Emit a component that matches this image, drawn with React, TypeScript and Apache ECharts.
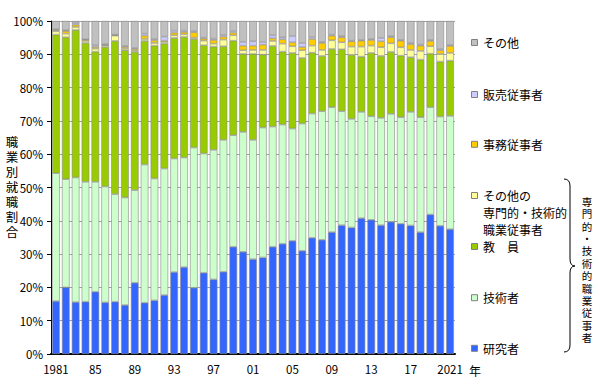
import React, { useEffect, useRef } from "react";
import * as echarts from "echarts";

const years = [
  "1981", "1982", "1983", "1984", "1985", "1986", "1987", "1988", "1989", "1990",
  "1991", "1992", "1993", "1994", "1995", "1996", "1997", "1998", "1999", "2000",
  "2001", "2002", "2003", "2004", "2005", "2006", "2007", "2008", "2009", "2010",
  "2011", "2012", "2013", "2014", "2015", "2016", "2017", "2018", "2019", "2020",
  "2021",
];

const researchers = [
  15.9, 20.0, 15.6, 15.7, 18.7, 15.5, 15.7, 14.7, 21.4, 15.4,
  16.1, 17.7, 24.6, 26.1, 19.9, 24.4, 22.4, 24.7, 32.2, 30.7,
  28.5, 29.0, 32.2, 33.1, 34.0, 31.0, 34.9, 34.3, 36.6, 38.7,
  38.0, 40.8, 40.3, 38.7, 39.7, 39.1, 38.6, 36.6, 41.9, 38.5,
  37.5,
];
const engineers = [
  38.4, 32.5, 37.4, 36.0, 33.0, 34.8, 32.3, 32.3, 27.8, 41.5,
  36.6, 38.0, 34.1, 32.9, 42.1, 35.8, 38.9, 39.6, 33.5, 36.0,
  35.8, 39.0, 36.1, 35.8, 33.7, 38.2, 37.3, 38.6, 37.5, 34.2,
  32.6, 31.9, 31.1, 32.2, 32.4, 32.0, 34.1, 34.5, 32.2, 32.8,
  34.0,
];
const teachers = [
  41.6, 42.6, 44.3, 41.7, 39.1, 41.9, 46.0, 44.2, 41.5, 37.1,
  39.9, 37.5, 36.2, 36.2, 32.6, 32.5, 31.0, 28.1, 28.4, 23.4,
  25.8, 21.9, 24.2, 21.9, 22.7, 19.7, 18.3, 16.6, 17.5, 18.6,
  19.2, 16.6, 19.0, 18.6, 18.6, 18.5, 16.4, 17.3, 16.1, 16.5,
  16.6,
];
const otherProfessionals = [
  1.0, 1.1, 0.9, 0.6, 0.9, 0.5, 1.6, 0.5, 0.4, 0.6,
  0.8, 0.5, 0.8, 0.8, 0.4, 1.4, 0.9, 2.0, 1.6, 1.1,
  1.2, 1.4, 1.5, 2.4, 2.0, 2.3, 2.1, 1.8, 2.6, 2.1,
  2.5, 3.0, 2.2, 2.6, 2.6, 2.5, 2.2, 2.6, 2.2, 2.3,
  2.3,
];
const clerical = [
  0.4, 0.8, 0.7, 0.4, 0.5, 0.1, 0.2, 0.5, 0.5, 1.0,
  0.8, 0.4, 0.8, 0.7, 1.6, 0.6, 1.1, 0.9, 0.8, 1.4,
  1.3, 1.6, 0.8, 1.3, 1.2, 1.0, 2.0, 2.1, 1.4, 1.5,
  1.6, 1.8, 1.7, 1.8, 1.8, 2.0, 1.7, 1.6, 1.6, 1.1,
  2.1,
];
const sales = [
  0.2, 0.2, 0.5, 0.1, 0.5, 0.3, 0.1, 0.3, 0.3, 0.6,
  0.4, 1.2, 0.6, 0.4, 0.4, 0.3, 0.4, 0.5, 0.5, 1.1,
  1.3, 0.8, 0.9, 0.6, 1.9, 1.2, 0.6, 0.3, 0.3, 0.3,
  0.2, 0.2, 0.3, 1.0, 0.3, 0.2, 0.4, 0.3, 0.3, 0.4,
  0.3,
];
const others = [
  2.5, 2.8, 0.6, 5.5, 7.3, 6.9, 4.1, 7.5, 8.1, 3.8,
  5.4, 4.7, 2.9, 2.9, 3.0, 5.0, 5.3, 4.2, 3.0, 6.3,
  6.1, 6.3, 4.3, 4.9, 4.5, 6.6, 4.8, 6.3, 4.1, 4.6,
  5.9, 5.7, 5.4, 5.1, 4.6, 5.7, 6.6, 7.1, 5.7, 8.4,
  7.2,
];

const seriesNames = [
  "研究者",
  "技術者",
  "教員",
  "その他の専門的・技術的職業従事者",
  "事務従事者",
  "販売従事者",
  "その他",
];
const seriesColors = ["#3366ff", "#ccffcc", "#99cc00", "#ffff99", "#ffcc00", "#ccccff", "#c0c0c0"];
const seriesData = [researchers, engineers, teachers, otherProfessionals, clerical, sales, others];

const yTitle = "職業別就職割合";
const groupLabel = "専門的・技術的職業従事者";

const FONT = "'Noto Sans CJK JP', 'Noto Sans', sans-serif";
const VFONT = "'Liberation Sans', 'Noto Sans CJK JP', sans-serif";

echarts.graphic.registerShape(
  "brace",
  echarts.graphic.extendPath(
    "M564,179 Q570,179 570,186 L570,259 Q570,266 575,266 Q570,266 570,273 L570,345 Q570,352 564,352",
    {}
  )
);

export default function App() {
  const ref = useRef<HTMLDivElement>(null);

  useEffect(() => {
    if (!ref.current) return;
    const chart = echarts.init(ref.current, undefined, { renderer: "svg" });

    const legendItems = [
      { idx: 6, y: 42.5, lines: ["その他"] },
      { idx: 5, y: 94.5, lines: ["販売従事者"] },
      { idx: 4, y: 144.3, lines: ["事務従事者"] },
      { idx: 3, y: 195.5, lines: ["その他の", "専門的・技術的", "職業従事者"] },
      { idx: 2, y: 246.5, lines: ["教　員"] },
      { idx: 1, y: 297.7, lines: ["技術者"] },
      { idx: 0, y: 348.3, lines: ["研究者"] },
    ];

    const graphics: any[] = [];
    legendItems.forEach((it) => {
      graphics.push({
        type: "rect",
        shape: { x: 471.5, y: it.y - 3, width: 6, height: 6 },
        style: { fill: seriesColors[it.idx], stroke: "#808080", lineWidth: 1 },
      });
      it.lines.forEach((line, k) => {
        graphics.push({
          type: "text",
          x: 483,
          y: it.y + k * 17,
          style: {
            text: line,
            fill: "#000",
            font: `12px ${FONT}`,
            verticalAlign: "middle",
            textAlign: "left",
          },
        });
      });
    });

    // y-axis title (vertical, one character per element)
    yTitle.split("").forEach((ch, k) => {
      graphics.push({
        type: "text",
        x: 12,
        y: 143 + k * 15,
        style: {
          text: ch,
          fill: "#000",
          font: `12.5px ${VFONT}`,
          textAlign: "center",
          verticalAlign: "middle",
        },
      });
    });

    // brace and group label
    graphics.push({
      type: "brace",
      x: 0,
      y: 0,
      style: { stroke: "#000", fill: "none", lineWidth: 1 },
    });
    groupLabel.split("").forEach((ch, k) => {
      graphics.push({
        type: "text",
        x: 587,
        y: 201.7 + k * 12.4,
        style: {
          text: ch,
          fill: "#000",
          font: `10.5px ${VFONT}`,
          textAlign: "center",
          verticalAlign: "middle",
        },
      });
    });
    // x-axis unit
    graphics.push({
      type: "text",
      x: 469,
      y: 370,
      style: {
        text: "年",
        fill: "#000",
        font: `12px ${FONT}`,
        textAlign: "left",
        verticalAlign: "middle",
      },
    });

    chart.setOption({
      animation: false,
      backgroundColor: "#fff",
      textStyle: { fontFamily: FONT },
      grid: { left: 51, right: 145, top: 21, bottom: 35, containLabel: false },
      xAxis: {
        type: "category",
        data: years,
        axisLine: { show: true, lineStyle: { color: "#000", width: 2 } },
        axisTick: { show: false },
        axisLabel: {
          interval: 3,
          margin: 9,
          color: "#000",
          fontSize: 11.5,
          fontFamily: FONT,
          formatter: (v: string, i: number) => (i === 0 || i === years.length - 1 ? v : v.slice(2)),
        },
      },
      yAxis: {
        type: "value",
        min: 0,
        max: 100,
        interval: 10,
        axisLine: { show: true, lineStyle: { color: "#000", width: 1 } },
        axisTick: { show: true, length: 4, lineStyle: { color: "#000" } },
        axisLabel: {
          formatter: "{value}%",
          color: "#000",
          fontSize: 11.5,
          margin: 8,
          fontFamily: FONT,
        },
        splitLine: { show: true, lineStyle: { color: "#a0a0a0", width: 1 } },
      },
      series: seriesNames.map((name, i) => ({
        name,
        type: "bar",
        stack: "total",
        data: seriesData[i],
        barWidth: "78%",
        itemStyle: {
          color: seriesColors[i],
          borderColor: "#8a8a8a",
          borderWidth: 0.6,
        },
        emphasis: { disabled: true },
      })),
      graphic: graphics,
    });

    return () => chart.dispose();
  }, []);

  return (
    <div
      ref={ref}
      style={{ position: "absolute", left: 0, top: 0, width: 600, height: 389 }}
    />
  );
}
